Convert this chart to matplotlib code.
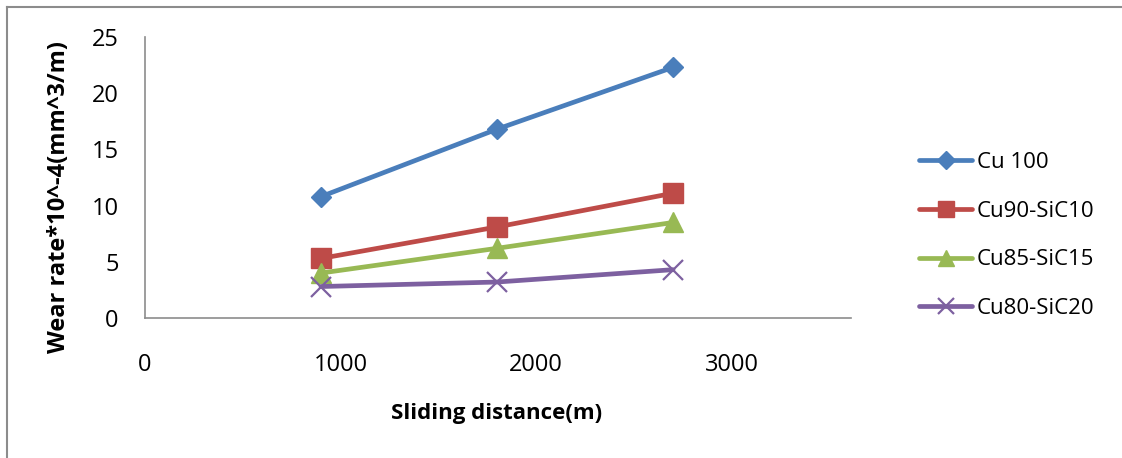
import matplotlib
matplotlib.use("Agg")
import matplotlib.pyplot as plt
from matplotlib.lines import Line2D

plt.rcParams['font.family'] = ['Open Sans', 'DejaVu Sans']

# Sliding distance (m)
distance = [900, 1800, 2700]

# Wear rate *10^-4 (mm^3/m)
cu100 = [10.8, 16.8, 22.3]
cu90_sic10 = [5.3, 8.1, 11.1]
cu85_sic15 = [4.0, 6.2, 8.5]
cu80_sic20 = [2.8, 3.2, 4.3]

series_labels = ["Cu 100", "Cu90-SiC10", "Cu85-SiC15", "Cu80-SiC20"]
x_ticks = [0, 1000, 2000, 3000]
y_ticks = [0, 5, 10, 15, 20, 25]

W, H = 1122, 458
fig = plt.figure(figsize=(W / 100, H / 100), dpi=100)
ax = fig.add_axes([145 / W, 1 - 318 / H, (851 - 145) / W, (318 - 37) / H])

styles = [
    dict(color="#4a7ebb", marker="D", markersize=10.5),
    dict(color="#be4b48", marker="s", markersize=14),
    dict(color="#98b954", marker="^", markersize=14),
    dict(color="#7d60a0", marker="x", markersize=14, markeredgewidth=1.6),
]
for vals, lab, st in zip([cu100, cu90_sic10, cu85_sic15, cu80_sic20], series_labels, styles):
    ax.plot(distance, vals, label=lab, linewidth=3.4, solid_capstyle="round", **st)

ax.set_xlim(0, 3610)
ax.set_ylim(0, 25)
ax.set_xticks(x_ticks)
ax.set_yticks(y_ticks)
ax.tick_params(length=0, labelsize=17)
ax.tick_params(axis="x", pad=25)
ax.tick_params(axis="y", pad=19)
for s in ["top", "right"]:
    ax.spines[s].set_visible(False)
for s in ["left", "bottom"]:
    ax.spines[s].set_color("#8c8c8c")
    ax.spines[s].set_linewidth(1.2)

ax.set_xlabel("Sliding distance(m)", fontsize=16, fontweight="bold")
ax.set_ylabel("Wear rate*10^-4(mm^3/m)", fontsize=17, fontweight="bold")
ax.xaxis.set_label_coords((497 - 145) / (851 - 145), -(414 - 318) / (318 - 37))
ax.yaxis.set_label_coords(-(145 - 59) / (851 - 145), (318 - 197) / (318 - 37))
ax.xaxis.label.set_va("center")
ax.yaxis.label.set_va("center")

fig.legend(loc="upper left", bbox_to_anchor=(910 / W, 1 - 143 / H), frameon=False,
           fontsize=16, handlelength=2.4, handletextpad=0.2, labelspacing=1.25,
           borderaxespad=0, markerscale=0.85)

# outer chart frame
fig.add_artist(Line2D([7 / W, 1], [1 - 7 / H, 1 - 7 / H], color="#8c8c8c", linewidth=1.5))
fig.add_artist(Line2D([7 / W, 7 / W], [0, 1 - 7 / H], color="#8c8c8c", linewidth=1.5))

fig.savefig("out.png", dpi=100)
